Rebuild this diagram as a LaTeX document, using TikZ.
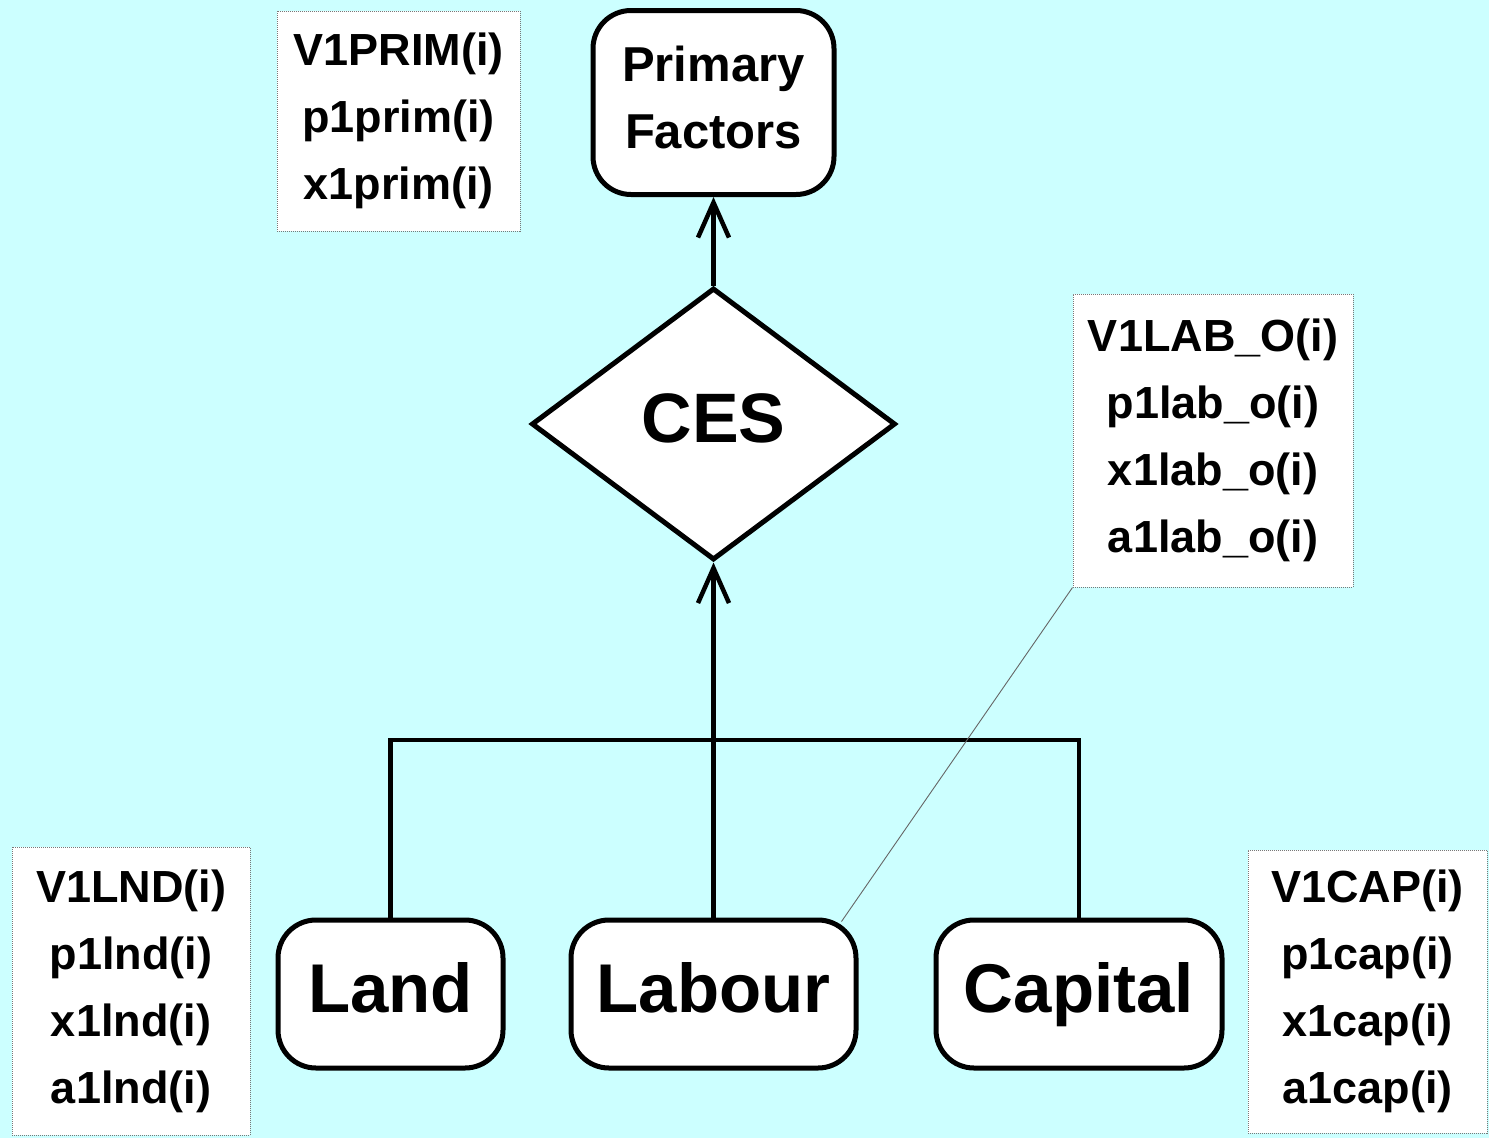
\documentclass[tikz,border=0pt]{standalone}
\usepackage{fontspec}
\setmainfont{Liberation Sans}
\usetikzlibrary{shapes.geometric,arrows.meta,calc}
\definecolor{bgcyan}{RGB}{204,255,255}
\definecolor{dotgray}{RGB}{120,120,120}
\begin{document}
\begin{tikzpicture}[x=1pt,y=-1pt,
  box/.style={draw=black,line width=5pt,fill=white,rounded corners=38pt,
    inner sep=0pt,font=\bfseries},
  bigbox/.style={box,font=\fontsize{69}{80}\selectfont\bfseries,
    text height=50pt,text depth=14pt},
  infobox/.style={draw=dotgray,densely dotted,line width=1pt,fill=white,
    inner sep=0pt,align=center,font=\fontsize{45}{67}\selectfont\bfseries},
  conn/.style={line width=4.5pt},
  arr/.style={conn,-{Straight Barb[length=35pt,width=31pt]}},
  leader/.style={line width=0.9pt,draw=black!60}]
  % background
  \fill[bgcyan] (0,0) rectangle (1489,1138);
  \useasboundingbox (0,0) rectangle (1489,1138);

  % main boxes
  \node[box,minimum width=241pt,minimum height=184pt,align=center,
        font=\fontsize{49}{67}\selectfont\bfseries,text depth=10pt]
        (prim) at (713.5,102.5) {Primary\\Factors};
  \node[diamond,draw=black,line width=5pt,fill=white,inner sep=0pt,
        minimum width=364pt,minimum height=272pt,
        font=\fontsize{70}{80}\selectfont\bfseries,
        text height=50pt,text depth=13pt] (ces) at (713.5,424) {CES};
  \node[bigbox,minimum width=225pt,minimum height=148pt] (land) at (390.5,994) {Land};
  \node[bigbox,minimum width=285pt,minimum height=148pt] (lab) at (713.5,994) {Labour};
  \node[bigbox,minimum width=286pt,minimum height=148pt] (cap) at (1079,994) {Capital};

  % data boxes
  \node[infobox,minimum width=243pt,minimum height=220pt] (vprim) at (398.5,121)
        {V1PRIM(i)\\p1prim(i)\\x1prim(i)};
  \node[infobox,minimum width=280pt,minimum height=293pt] (vlab) at (1213,440.5)
        {V1LAB\_O(i)\\p1lab\_o(i)\\x1lab\_o(i)\\a1lab\_o(i)};
  \node[infobox,minimum width=238pt,minimum height=288pt] (vlnd) at (131,991)
        {V1LND(i)\\p1lnd(i)\\x1lnd(i)\\a1lnd(i)};
  \node[infobox,minimum width=239pt,minimum height=283pt] (vcap) at (1367.5,991.5)
        {V1CAP(i)\\p1cap(i)\\x1cap(i)\\a1cap(i)};

  % connectors
  \coordinate (bus) at (713.5,740);
  \draw[conn] (land.north) |- (bus) -| (cap.north);
  \draw[arr] (lab.north) -- (ces.south);
  \draw[arr] (ces.north) -- (prim.south);
  \coordinate (labtip) at ($(lab.north east)+(-17,4)$);
  \draw[leader] (vlab.south west) -- (labtip);
\end{tikzpicture}
\end{document}
